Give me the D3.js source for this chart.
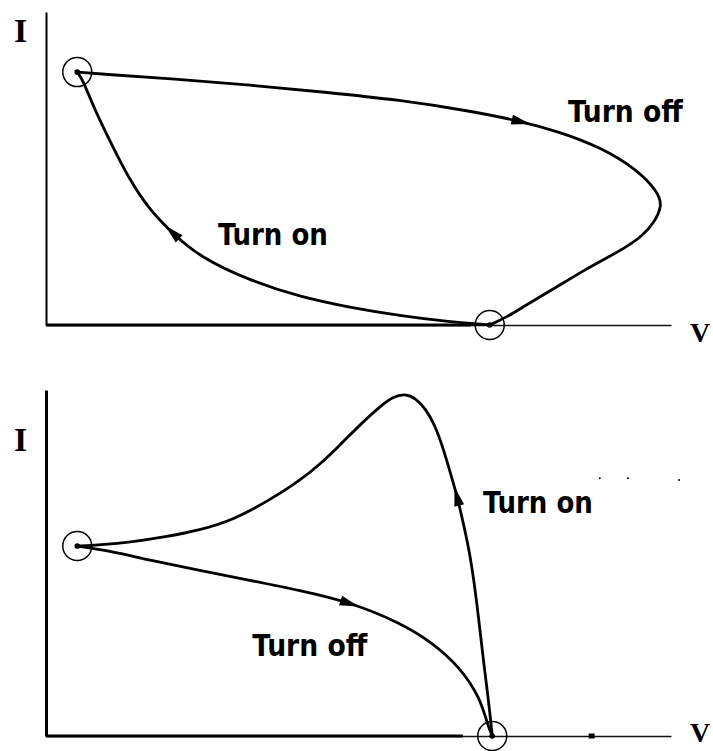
<!DOCTYPE html>
<html>
<head>
<meta charset="utf-8">
<script src="https://cdn.jsdelivr.net/npm/d3@7"></script>
<style>
  html, body { margin: 0; padding: 0; background: #fff; }
  svg { display: block; }
</style>
</head>
<body>
<div id="chart"></div>
<script>
// Switching trajectories in the V–I plane (V and I in arbitrary units, 0–10).
// Upper plot: turn-off loop swings out to high V, turn-on returns along the axis.
const upperTurnOff = [
  [0.50, 8.08], [0.86, 8.02], [2.06, 7.86], [3.26, 7.67], [4.46, 7.44],
  [5.66, 7.19], [6.78, 6.84], [7.58, 6.52], [8.22, 6.17], [8.86, 5.69],
  [9.45, 4.98], [9.79, 4.25], [9.86, 3.83], [9.74, 3.29], [9.54, 2.84],
  [9.26, 2.46], [8.94, 2.11], [8.62, 1.76], [8.30, 1.37], [7.98, 0.99],
  [7.66, 0.61], [7.38, 0.26], [7.10, 0.00]
];
const upperTurnOn = [
  [7.10, 0.00], [6.46, 0.10], [5.66, 0.30], [4.86, 0.56], [4.06, 0.90],
  [3.26, 1.42], [2.46, 2.17], [2.02, 2.94], [1.66, 3.67], [1.34, 4.63],
  [1.07, 5.69], [0.78, 6.87], [0.59, 7.83], [0.50, 8.08]
];
// Lower plot: turn-on overshoots in current, turn-off falls to the V axis.
const lowerTurnOn = [
  [7.14, 0.00], [7.08, 1.04], [7.01, 1.99], [6.89, 3.93], [6.79, 5.20],
  [6.69, 6.05], [6.58, 6.91], [6.49, 7.48], [6.35, 8.35], [6.22, 8.99],
  [6.08, 9.44], [5.92, 9.76], [5.74, 9.90], [5.55, 9.80], [5.36, 9.55],
  [5.02, 8.99], [4.70, 8.40], [4.38, 7.85], [4.06, 7.38], [3.58, 6.82],
  [2.99, 6.24], [2.46, 5.95], [1.90, 5.75], [1.39, 5.61], [0.86, 5.52],
  [0.50, 5.49]
];
const lowerTurnOff = [
  [0.50, 5.49], [1.02, 5.35], [1.66, 5.08], [2.46, 4.79], [3.26, 4.50],
  [4.06, 4.21], [4.86, 3.87], [5.66, 3.28], [6.19, 2.69], [6.62, 1.99],
  [6.94, 1.13], [7.07, 0.30], [7.14, 0.00]
];

// Operating points marked with circles
const upperPoints = [[0.50, 8.08], [7.10, 0.00]];
const lowerPoints = [[0.50, 5.49], [7.14, 0.00]];

// Direction arrows: [curve, point near which the arrow sits]
const upperArrows = [["off", [7.60, 6.52]], ["on", [2.02, 2.94]]];
const lowerArrows = [["on", [6.58, 6.91]], ["off", [4.86, 3.87]]];

// Curve labels
const upperLabels = [["Turn off", [8.35, 6.5]], ["Turn on", [2.75, 2.55]]];
const lowerLabels = [["Turn on", [6.99, 6.45]], ["Turn off", [3.30, 2.30]]];

const axisNames = ["I", "V"];

// Specks near the lower labels and on the lower V axis
const lowerSpecks = [[8.86, 7.45], [9.31, 7.45], [10.13, 7.40]];
const lowerAxisMark = [8.73, 0.0];

const W = 713, H = 751;
const svg = d3.select("#chart").append("svg")
  .attr("width", W).attr("height", H)
  .attr("viewBox", `0 0 ${W} ${H}`);

const x = d3.scaleLinear().domain([0, 10]).range([46, 671]);
const yUp = d3.scaleLinear().domain([0, 10]).range([325, 12]);
const yLo = d3.scaleLinear().domain([0, 10]).range([736, 390]);

const labelFont = "'DejaVu Sans Condensed', 'DejaVu Sans', sans-serif";
const axisFont = "'Liberation Serif', 'DejaVu Serif', serif";

function drawPanel(y, curves, points, arrows, labels, opts) {
  const g = svg.append("g");

  // V axis: thin full length, heavier stretch up to the operating point
  g.append("g")
    .attr("transform", `translate(0,${y(0)})`)
    .call(d3.axisBottom(x).tickValues([]).tickSizeOuter(0))
    .call(a => a.select(".domain").attr("stroke", "#111").attr("stroke-width", 1.4));
  g.append("line")
    .attr("x1", x(0)).attr("x2", x(opts.heavyTo))
    .attr("y1", y(0)).attr("y2", y(0))
    .attr("stroke", "#000").attr("stroke-width", 2.8);

  // I axis
  g.append("g")
    .attr("transform", `translate(${x(0)},0)`)
    .call(d3.axisLeft(y).tickValues([]).tickSizeOuter(0))
    .call(a => a.select(".domain").attr("stroke", "#000").attr("stroke-width", opts.yWidth));

  const line = d3.line().x(d => x(d[0])).y(d => y(d[1])).curve(d3.curveBasis);
  const paths = {};
  for (const [key, data] of Object.entries(curves)) {
    paths[key] = g.append("path")
      .datum(data)
      .attr("d", line)
      .attr("fill", "none")
      .attr("stroke", "#000")
      .attr("stroke-width", 2.8)
      .attr("stroke-linejoin", "round")
      .attr("stroke-linecap", "round");
  }

  // Arrowheads oriented along the direction of travel
  for (const [key, target] of arrows) {
    const node = paths[key].node();
    const total = node.getTotalLength();
    const tx = x(target[0]), ty = y(target[1]);
    let best = 0, bestD = Infinity;
    for (let l = 0; l <= total; l += 0.5) {
      const p = node.getPointAtLength(l);
      const dd = (p.x - tx) ** 2 + (p.y - ty) ** 2;
      if (dd < bestD) { bestD = dd; best = l; }
    }
    const p0 = node.getPointAtLength(Math.max(0, best - 5));
    const p1 = node.getPointAtLength(Math.min(total, best + 5));
    const c = node.getPointAtLength(best);
    const ang = Math.atan2(p1.y - p0.y, p1.x - p0.x) * 180 / Math.PI;
    g.append("path")
      .attr("d", "M10,0 L-9,-5 L-9,5 Z")
      .attr("fill", "#000")
      .attr("transform", `translate(${c.x},${c.y}) rotate(${ang})`);
  }

  // Operating-point circles
  g.selectAll("circle.op").data(points).join("circle")
    .attr("class", "op")
    .attr("cx", d => x(d[0])).attr("cy", d => y(d[1]))
    .attr("r", 14.5)
    .attr("fill", "none").attr("stroke", "#000").attr("stroke-width", 1.5);
  g.selectAll("circle.dot").data(points).join("circle")
    .attr("class", "dot")
    .attr("cx", d => x(d[0])).attr("cy", d => y(d[1]))
    .attr("r", 2.8).attr("fill", "#000");

  // Curve labels
  g.selectAll("text.lab").data(labels).join("text")
    .attr("class", "lab")
    .attr("x", d => x(d[1][0])).attr("y", d => y(d[1][1]))
    .attr("font-family", labelFont)
    .attr("font-weight", "bold")
    .attr("font-size", 31)
    .attr("textLength", d => d[0] === "Turn off" ? 115 : 110)
    .attr("lengthAdjust", "spacingAndGlyphs")
    .attr("fill", "#000")
    .text(d => d[0]);

  // Axis names
  g.append("text")
    .attr("x", 14).attr("y", y(0) + opts.iBase)
    .attr("font-family", axisFont).attr("font-weight", "bold")
    .attr("font-size", 34).attr("fill", "#000")
    .text(axisNames[0]);
  g.append("text")
    .attr("x", 690).attr("y", y(0) + opts.vBase)
    .attr("font-family", axisFont).attr("font-weight", "bold")
    .attr("font-size", 28).attr("fill", "#000")
    .text(axisNames[1]);

  return g;
}

drawPanel(yUp, { off: upperTurnOff, on: upperTurnOn }, upperPoints, upperArrows, upperLabels,
  { heavyTo: 6.8, yWidth: 2.0, iBase: 42 - 325, vBase: 17 });

const lower = drawPanel(yLo, { on: lowerTurnOn, off: lowerTurnOff }, lowerPoints, lowerArrows, lowerLabels,
  { heavyTo: 6.67, yWidth: 3.0, iBase: 451 - 736, vBase: 6 });

lower.selectAll("circle.speck").data(lowerSpecks).join("circle")
  .attr("class", "speck")
  .attr("cx", d => x(d[0])).attr("cy", d => yLo(d[1]))
  .attr("r", 1).attr("fill", "#000");
lower.append("rect")
  .attr("x", x(lowerAxisMark[0]) - 3).attr("y", yLo(lowerAxisMark[1]) - 2.5)
  .attr("width", 6).attr("height", 5).attr("fill", "#000");
</script>
</body>
</html>
